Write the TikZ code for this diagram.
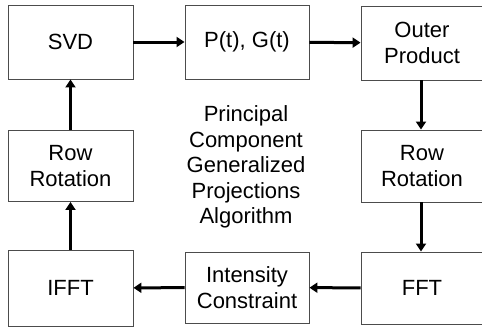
\documentclass[tikz,border=0pt]{standalone}
\usepackage{fontspec}
\setmainfont{Liberation Sans}
\usepackage{tikz}
\usetikzlibrary{arrows.meta}

\begin{document}
\begin{tikzpicture}[x=1pt,y=-1pt,
  blk/.style={draw=black!70,line width=0.9pt,rectangle,inner sep=0pt,
    minimum width=125pt,minimum height=74pt,align=center,
    font=\fontsize{22}{25.5}\selectfont},
  flow/.style={-{Triangle[length=8pt,width=10pt]},line width=3pt}]
\useasboundingbox (0,0) rectangle (482,330);
%top row
\node[blk] (svd) at (70.5,42) {SVD};
\node[blk,minimum width=124pt] (pg) at (247,42) {P(t), G(t)};
\node[blk,minimum width=122pt] (outer) at (422,43) {Outer\\Product};
%middle row
\node[blk,minimum height=71pt] (rotl) at (70.5,166) {Row\\Rotation};
\node[blk,minimum width=122pt,minimum height=72pt] (rotr) at (422,166) {Row\\Rotation};
%bottom row
\node[blk,minimum height=76pt] (ifft) at (70.5,288) {IFFT};
\node[blk,minimum width=124pt,minimum height=71pt] (int) at (247,287.5) {Intensity\\Constraint};
\node[blk,minimum width=122pt,minimum height=72pt] (fft) at (422,288) {FFT};
%title
\node[align=center,font=\fontsize{22}{25.5}\selectfont] (title) at (246,167)
  {Principal\\Component\\Generalized\\Projections\\Algorithm};
%arrows
\draw[flow] (svd) -- (pg);
\draw[flow] (pg) -- (outer);
\draw[flow] (outer.south-|421,0) -- (rotr.north-|421,0);
\draw[flow] (rotr.south-|421,0) -- (fft.north-|421,0);
\draw[flow] (fft) -- (int);
\draw[flow] (int) -- (ifft);
\draw[flow] (ifft) -- (rotl);
\draw[flow] (rotl) -- (svd);
\end{tikzpicture}
\end{document}
